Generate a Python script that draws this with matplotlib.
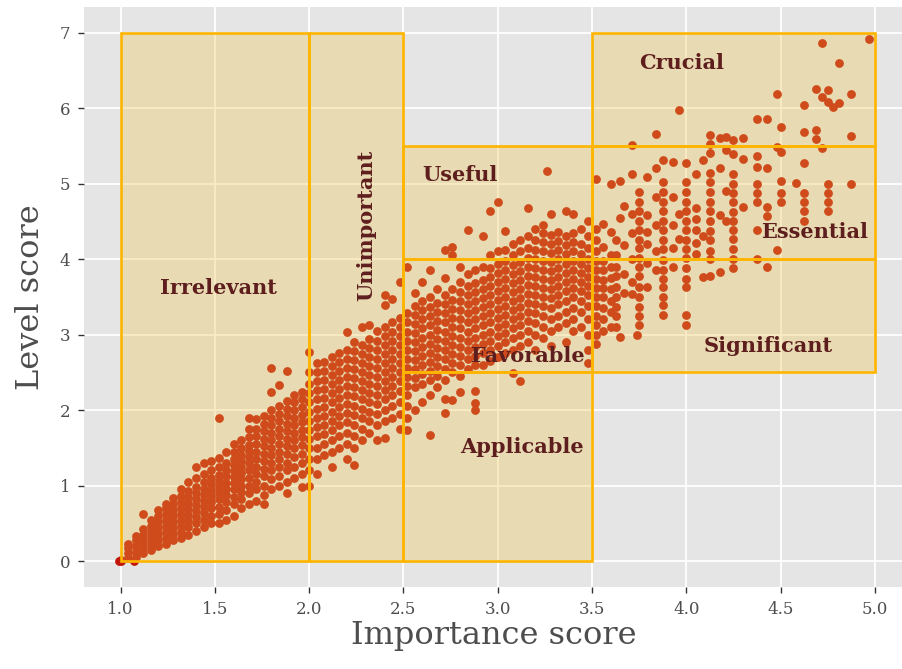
import matplotlib
matplotlib.use("Agg")
import matplotlib.pyplot as plt
from matplotlib.patches import Rectangle

# ---- data ----
# each entry: (importance score, [level scores of the points in that column])
band_low = [
    (0.99, [0.0]), (1.00, [0.0, 0.02]), (1.07, [0.0]),
    (1.04, [0.04, 0.1, 0.17, 0.22]),
    (1.08, [0.05, 0.12, 0.2, 0.28, 0.33]),
    (1.12, [0.1, 0.18, 0.26, 0.34, 0.42, 0.62]),
    (1.16, [0.15, 0.22, 0.3, 0.38, 0.46, 0.55]),
    (1.20, [0.2, 0.28, 0.36, 0.44, 0.52, 0.6, 0.68]),
    (1.24, [0.22, 0.3, 0.38, 0.46, 0.54, 0.62, 0.7, 0.76]),
    (1.28, [0.28, 0.36, 0.44, 0.52, 0.6, 0.68, 0.76, 0.84]),
    (1.32, [0.3, 0.38, 0.46, 0.54, 0.62, 0.7, 0.78, 0.86, 0.95]),
    (1.36, [0.35, 0.45, 0.53, 0.61, 0.69, 0.77, 0.85, 0.93, 1.05]),
    (1.40, [0.4, 0.5, 0.58, 0.66, 0.74, 0.82, 0.9, 0.98, 1.1, 1.25]),
    (1.44, [0.45, 0.55, 0.63, 0.71, 0.79, 0.87, 0.95, 1.05, 1.15, 1.3]),
    (1.48, [0.5, 0.6, 0.7, 0.78, 0.86, 0.94, 1.02, 1.1, 1.2, 1.32]),
    (1.52, [0.5, 0.62, 0.72, 0.82, 0.9, 0.98, 1.06, 1.14, 1.24, 1.36, 1.9]),
    (1.56, [0.55, 0.68, 0.78, 0.88, 0.96, 1.04, 1.12, 1.2, 1.3, 1.45]),
    (1.60, [0.6, 0.75, 0.85, 0.95, 1.03, 1.11, 1.19, 1.27, 1.35, 1.45, 1.55]),
    (1.64, [0.7, 0.82, 0.92, 1.0, 1.08, 1.16, 1.24, 1.32, 1.4, 1.5, 1.6]),
    (1.68, [0.75, 0.9, 1.0, 1.1, 1.2, 1.3, 1.38, 1.46, 1.54, 1.64, 1.75, 1.9]),
    (1.72, [0.8, 0.95, 1.05, 1.15, 1.25, 1.35, 1.45, 1.55, 1.65, 1.75, 1.88]),
    (1.76, [0.75, 0.88, 1.0, 1.12, 1.22, 1.32, 1.42, 1.52, 1.62, 1.72, 1.82, 1.92]),
    (1.80, [0.95, 1.08, 1.2, 1.3, 1.4, 1.5, 1.6, 1.7, 1.8, 1.9, 2.0, 2.24, 2.56]),
    (1.84, [1.0, 1.12, 1.25, 1.35, 1.45, 1.55, 1.65, 1.75, 1.85, 1.95, 2.05, 2.33]),
    (1.88, [0.9, 1.05, 1.2, 1.3, 1.42, 1.52, 1.62, 1.72, 1.82, 1.92, 2.02, 2.12, 2.52]),
    (1.92, [1.1, 1.25, 1.38, 1.5, 1.6, 1.7, 1.8, 1.9, 2.0, 2.1, 2.2]),
    (1.96, [0.98, 1.15, 1.3, 1.42, 1.54, 1.64, 1.74, 1.84, 1.94, 2.04, 2.14, 2.24]),
    (2.00, [1.0, 1.2, 1.35, 1.5, 1.62, 1.74, 1.86, 1.98, 2.1, 2.22, 2.34, 2.5, 2.77]),
    (2.04, [1.15, 1.35, 1.5, 1.65, 1.78, 1.9, 2.02, 2.14, 2.26, 2.38, 2.5, 2.62]),
    (2.08, [1.4, 1.55, 1.68, 1.8, 1.92, 2.04, 2.16, 2.28, 2.4, 2.52, 2.64]),
    (2.12, [1.25, 1.45, 1.6, 1.74, 1.86, 1.98, 2.1, 2.22, 2.34, 2.46, 2.58, 2.7]),
    (2.16, [1.5, 1.66, 1.8, 1.92, 2.04, 2.16, 2.28, 2.4, 2.52, 2.64, 2.76]),
    (2.20, [1.35, 1.55, 1.7, 1.84, 1.96, 2.08, 2.2, 2.32, 2.44, 2.56, 2.68, 2.8, 3.03]),
    (2.24, [1.27, 1.5, 1.65, 1.8, 1.94, 2.06, 2.18, 2.3, 2.42, 2.54, 2.66, 2.78, 2.9]),
    (2.28, [1.6, 1.75, 1.9, 2.02, 2.14, 2.26, 2.38, 2.5, 2.62, 2.74, 2.86, 3.1]),
    (2.32, [1.7, 1.85, 1.98, 2.1, 2.22, 2.34, 2.46, 2.58, 2.7, 2.82, 2.94, 3.12]),
    (2.36, [1.6, 1.8, 1.95, 2.08, 2.2, 2.32, 2.44, 2.56, 2.68, 2.8, 2.92, 3.05]),
    (2.40, [1.63, 1.85, 2.0, 2.14, 2.26, 2.38, 2.5, 2.62, 2.74, 2.86, 2.98, 3.1, 3.39, 3.52]),
    (2.44, [1.9, 2.06, 2.2, 2.32, 2.44, 2.56, 2.68, 2.8, 2.92, 3.04, 3.16, 3.47]),
    (2.48, [1.75, 1.95, 2.1, 2.25, 2.38, 2.5, 2.62, 2.74, 2.86, 2.98, 3.1, 3.22, 3.7]),
]

band_mid = [
    (2.52, [1.73, 1.9, 2.05, 2.2, 2.32, 2.44, 2.56, 2.68, 2.8, 2.92, 3.04, 3.16, 3.28, 3.9]),
    (2.56, [2.0, 2.3, 2.42, 2.54, 2.66, 2.78, 2.9, 3.02, 3.14, 3.26, 3.38, 3.55]),
    (2.60, [2.1, 2.35, 2.48, 2.6, 2.72, 2.84, 2.96, 3.08, 3.2, 3.32, 3.44, 3.7]),
    (2.64, [1.67, 2.2, 2.4, 2.52, 2.64, 2.76, 2.88, 3.0, 3.12, 3.24, 3.36, 3.5, 3.85]),
    (2.68, [2.3, 2.45, 2.58, 2.7, 2.82, 2.94, 3.06, 3.18, 3.3, 3.42, 3.6]),
    (2.72, [1.96, 2.15, 2.4, 2.55, 2.68, 2.8, 2.92, 3.04, 3.16, 3.28, 3.4, 3.52, 3.75, 4.12]),
    (2.76, [2.13, 2.5, 2.62, 2.74, 2.86, 2.98, 3.1, 3.22, 3.34, 3.46, 3.6, 4.05, 4.16]),
    (2.80, [2.24, 2.45, 2.6, 2.72, 2.84, 2.96, 3.08, 3.2, 3.32, 3.44, 3.56, 3.7, 3.9]),
    (2.84, [2.55, 2.68, 2.8, 2.92, 3.04, 3.16, 3.28, 3.4, 3.52, 3.64, 3.8, 4.38]),
    (2.88, [2.0, 2.09, 2.25, 2.6, 2.72, 2.84, 2.96, 3.08, 3.2, 3.32, 3.44, 3.56, 3.68, 3.85]),
    (2.92, [2.6, 2.75, 2.88, 3.0, 3.12, 3.24, 3.36, 3.48, 3.6, 3.72, 3.9, 4.3]),
    (2.96, [2.65, 2.8, 2.92, 3.04, 3.16, 3.28, 3.4, 3.52, 3.64, 3.76, 3.88, 4.05, 4.63]),
    (3.00, [2.7, 2.85, 2.98, 3.1, 3.22, 3.34, 3.46, 3.58, 3.7, 3.82, 3.94, 4.1, 4.76]),
    (3.04, [2.75, 2.9, 3.02, 3.14, 3.26, 3.38, 3.5, 3.62, 3.74, 3.86, 3.98, 4.12, 4.37]),
    (3.08, [2.49, 2.8, 2.95, 3.08, 3.2, 3.32, 3.44, 3.56, 3.68, 3.8, 3.92, 4.05, 4.2]),
    (3.12, [2.38, 2.85, 3.0, 3.12, 3.24, 3.36, 3.48, 3.6, 3.72, 3.84, 3.96, 4.1, 4.25]),
    (3.16, [2.9, 3.05, 3.18, 3.3, 3.42, 3.54, 3.66, 3.78, 3.9, 4.02, 4.15, 4.3, 4.67]),
    (3.20, [2.8, 3.0, 3.15, 3.28, 3.4, 3.52, 3.64, 3.76, 3.88, 4.0, 4.12, 4.25, 4.4]),
    (3.24, [2.95, 3.1, 3.25, 3.38, 3.5, 3.62, 3.74, 3.86, 3.98, 4.1, 4.22, 4.35, 4.45]),
    (3.26, [5.17]),
    (3.28, [2.85, 3.05, 3.2, 3.35, 3.48, 3.6, 3.72, 3.84, 3.96, 4.08, 4.2, 4.32, 4.6]),
    (3.32, [3.1, 3.25, 3.4, 3.52, 3.64, 3.76, 3.88, 4.0, 4.12, 4.24, 4.36]),
    (3.36, [2.9, 3.15, 3.3, 3.45, 3.58, 3.7, 3.82, 3.94, 4.06, 4.18, 4.3, 4.64]),
    (3.40, [3.05, 3.2, 3.35, 3.5, 3.62, 3.74, 3.86, 3.98, 4.1, 4.22, 4.35, 4.6]),
    (3.44, [3.1, 3.3, 3.45, 3.58, 3.7, 3.82, 3.94, 4.06, 4.2, 4.4]),
    (3.48, [2.62, 2.8, 3.0, 3.2, 3.38, 3.52, 3.64, 3.76, 3.88, 4.0, 4.15, 4.3, 4.5]),
]

band_high = [
    (3.52, [2.88, 3.0, 3.12, 3.25, 3.38, 3.5, 3.62, 3.74, 3.86, 3.98, 4.1, 4.25, 4.4, 5.06]),
    (3.56, [3.05, 3.2, 3.35, 3.5, 3.62, 3.72, 3.85, 3.98, 4.16, 4.46]),
    (3.60, [3.1, 3.3, 3.45, 3.6, 3.75, 3.9, 4.05, 4.36, 5.0]),
    (3.625, [3.1, 3.25, 3.37, 3.5, 3.63, 3.77, 3.9, 4.05, 4.25]),
    (3.65, [2.97, 4.54, 5.04]),
    (3.67, [3.55, 3.8, 4.18, 4.7]),
    (3.71, [3.54, 3.7, 4.0, 4.34, 4.6, 5.13, 5.51]),
    (3.74, [2.99]),
    (3.75, [3.13, 3.25, 3.37, 3.5, 3.63, 3.77, 3.9, 4.01, 4.14, 4.25, 4.38, 4.5,
            4.63, 4.76, 4.89]),
    (3.79, [3.63, 3.95, 4.2, 4.36, 4.58, 5.09]),
    (3.84, [3.85, 4.1, 4.45, 4.82, 5.21, 5.65]),
    (3.875, [3.26, 3.39, 3.5, 3.63, 3.74, 3.85, 3.99, 4.13, 4.25, 4.38, 4.5, 4.63,
             4.76, 4.89, 5.02, 5.31]),
    (3.93, [3.9, 4.15, 4.45, 4.82, 5.29]),
    (3.96, [4.27, 4.6, 5.97]),
    (4.00, [3.13, 3.26, 3.63, 3.74, 3.88, 4.01, 4.13, 4.25, 4.38, 4.5, 4.63, 4.76,
            4.89, 5.02, 5.27]),
    (4.05, [4.07, 4.21, 4.38, 4.53, 4.68, 5.13]),
    (4.09, [3.76, 4.3, 5.31]),
    (4.125, [3.77, 4.0, 4.1, 4.25, 4.37, 4.5, 4.63, 4.76, 4.89, 5.02, 5.14, 5.4,
             5.53, 5.64]),
    (4.18, [3.83, 4.58, 5.2, 5.6]),
    (4.21, [4.5, 4.9, 5.45, 5.62]),
    (4.25, [3.88, 4.0, 4.13, 4.26, 4.39, 4.5, 4.62, 4.76, 4.88, 5.0, 5.13, 5.39, 5.58]),
    (4.30, [4.69, 5.33, 5.6]),
    (4.375, [4.0, 4.38, 4.76, 4.88, 5.0, 5.22, 5.37, 5.86]),
    (4.43, [3.9, 4.57, 4.69, 5.2, 5.86]),
    (4.48, [4.12, 5.49, 6.19]),
    (4.50, [4.76, 4.88, 5.04, 5.42, 5.75]),
    (4.58, [5.01]),
    (4.625, [4.5, 4.63, 4.75, 4.88, 5.27, 5.68, 6.04]),
    (4.69, [5.59, 5.71, 6.25]),
    (4.72, [5.47, 6.14, 6.86]),
    (4.75, [4.63, 4.75, 4.88, 5.0, 6.08, 6.24]),
    (4.78, [6.02]),
    (4.81, [6.06, 6.6]),
    (4.875, [5.0, 5.63, 6.18]),
    (4.97, [6.92]),
]

# category boxes: name, (importance from, to), (level from, to)
box_names = ["Irrelevant", "Unimportant", "Applicable", "Favorable", "Useful",
             "Significant", "Essential", "Crucial"]
box_x = [(1.0, 2.0), (2.0, 2.5), (2.5, 3.5), (2.5, 3.5), (2.5, 3.5),
         (3.5, 5.0), (3.5, 5.0), (3.5, 5.0)]
box_y = [(0, 7), (0, 7), (0, 2.5), (2.5, 4), (4, 5.5),
         (2.5, 4), (4, 5.5), (5.5, 7)]
label_pos = [(1.517, 3.62), (2.305, 4.45), (3.13, 1.51), (3.162, 2.71), (2.8, 5.11),
             (4.435, 2.85), (4.68, 4.36), (3.975, 6.6)]

importance = []
level = []
for grp in (band_low, band_mid, band_high):
    for xv, ys in grp:
        for yv in ys:
            importance.append(xv)
            level.append(yv)

plt.rcParams["font.family"] = ["DejaVu Serif"]

fig = plt.figure(figsize=(9.03, 6.69), dpi=100)
ax = fig.add_axes([0.093, 0.123, 0.907, 0.867])
ax.set_facecolor("#E5E5E5")
for s in ax.spines.values():
    s.set_visible(False)
ax.grid(True, color="white", linewidth=1.3)
ax.set_axisbelow(True)

# points first, boxes laid on top with a translucent fill
ax.scatter(importance, level, s=40, color="#C1170A", linewidths=0, zorder=2)

for name, (x0, x1), (y0, y1) in zip(box_names, box_x, box_y):
    ax.add_patch(Rectangle((x0, y0), x1 - x0, y1 - y0, facecolor="#EFC241",
                           alpha=0.31, edgecolor="none", zorder=3))
    ax.add_patch(Rectangle((x0, y0), x1 - x0, y1 - y0, facecolor="none",
                           edgecolor="#FFB500", linewidth=1.9, zorder=4))

for name, (tx, ty) in zip(box_names, label_pos):
    ax.text(tx, ty, name, ha="center", va="center", fontsize=15,
            fontweight="bold", color="#5E1E1E",
            rotation=90 if name == "Unimportant" else 0, zorder=5)

ax.set_xlim(0.806, 5.149)
ax.set_ylim(-0.34, 7.342)
ax.set_xticks([1.0, 1.5, 2.0, 2.5, 3.0, 3.5, 4.0, 4.5, 5.0])
ax.set_xticklabels(["1.0", "1.5", "2.0", "2.5", "3.0", "3.5", "4.0", "4.5", "5.0"])
ax.set_yticks(range(0, 8))
ax.tick_params(axis="both", colors="#333333", length=4, width=1,
               labelsize=12, labelcolor="#4D4D4D", pad=6)

ax.set_xlabel("Importance score", fontsize=23, color="#4D4D4D", labelpad=2)
ax.set_ylabel("Level score", fontsize=23, color="#4D4D4D", labelpad=10)

fig.savefig("out.png", dpi=100)
